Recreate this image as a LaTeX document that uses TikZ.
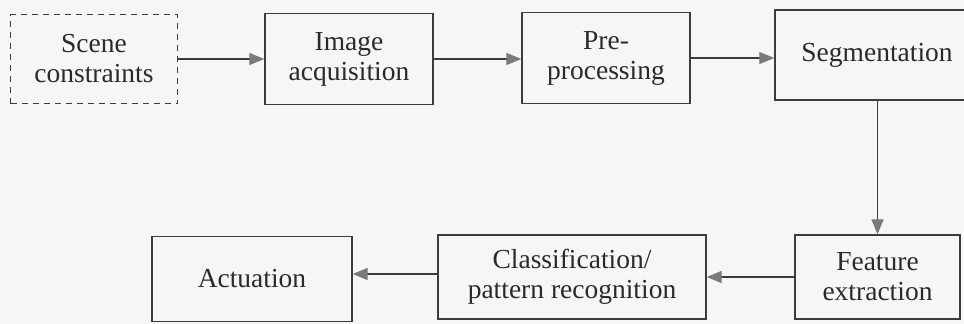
\documentclass[tikz,border=0pt]{standalone}
\usepackage{fontspec}
\setmainfont{Liberation Serif}
\usetikzlibrary{arrows.meta}
\definecolor{bg}{HTML}{F6F7F5}
\definecolor{ln}{HTML}{3C3C3C}
\definecolor{tx}{HTML}{2A2A2A}
\definecolor{hd}{HTML}{7A7A7A}
\begin{document}
\begin{tikzpicture}[x=1pt,y=-1pt,
  blk/.style={draw=ln,line width=1.3pt,text=tx,align=center,inner sep=0pt,
    font=\fontsize{27.5}{30}\selectfont},
  conn/.style={draw=ln,line width=1.1pt,-{Triangle[length=15pt,width=12pt,fill=hd,color=hd]}}]
\fill[bg] (0,0) rectangle (964,324);
\useasboundingbox (0,0) rectangle (964,324);
\begin{scope}
\clip (0,0) rectangle (964,324);
\node[blk,dashed,dash pattern=on 6pt off 5pt,minimum width=167pt,minimum height=89pt] (scene) at (94,59) {Scene\\constraints};
\node[blk,minimum width=168pt,minimum height=91pt] (acq) at (349,59) {Image\\acquisition};
\node[blk,minimum width=168pt,minimum height=91pt] (pre) at (606,58) {Pre-\\processing};
\node[blk,minimum width=204pt,minimum height=90pt] (seg) at (877,55) {Segmentation};
\node[blk,minimum width=165pt,minimum height=84pt] (feat) at (877.5,277) {Feature\\extraction};
\node[blk,minimum width=268pt,minimum height=84pt] (cls) at (572,277) {Classification/\\pattern recognition};
\node[blk,minimum width=200pt,minimum height=85pt] (act) at (252,279) {Actuation};
\end{scope}
\draw[conn] (scene.east) -- (scene.east -| acq.west);
\draw[conn] (acq.east) -- (acq.east -| pre.west);
\draw[conn] (pre.east) -- (pre.east -| seg.west);
\draw[conn] (seg.south -| feat.north) -- (feat.north);
\draw[conn] (feat.west) -- (feat.west -| cls.east);
\draw[conn] ([yshift=3pt]cls.west) -- ([yshift=3pt]cls.west -| act.east);
\end{tikzpicture}
\end{document}
